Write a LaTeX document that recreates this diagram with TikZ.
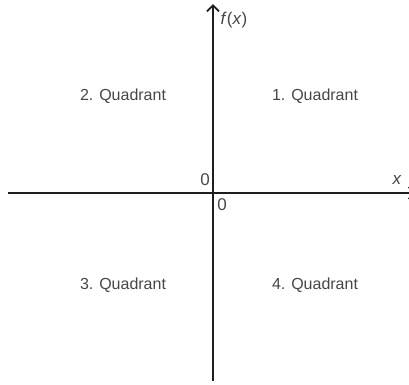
\documentclass[tikz,border=0pt]{standalone}
\usepackage{fontspec}
\setmainfont{Liberation Sans}
\usepackage{tikz}
\usetikzlibrary{arrows.meta,positioning}
\definecolor{axc}{RGB}{30,30,30}
\definecolor{txc}{RGB}{70,70,70}

\begin{document}
\begin{tikzpicture}[x=1pt,y=-1pt,font=\fontsize{16}{18}\selectfont,
  axis/.style={draw=axc,line width=2.6pt,-{Straight Barb[length=6pt,width=12pt,line width=1.8pt]}},
  quad/.style={text=txc,inner sep=0pt},
  lab/.style={text=txc,inner sep=0pt,font=\fontsize{17}{19}\selectfont}]
\useasboundingbox (0,0) rectangle (409,384);

% ---------- axes ----------
\coordinate (xl) at (8,193);
\coordinate (xr) at (416,193);
\coordinate (yb) at (213,381);
\coordinate (yt) at (213,4);
\draw[axis] (xl) -- (xr);
\draw[axis] (yb) -- (yt);

% ---------- axis labels ----------
\node[lab] (fx) at (234,20) {\textit{f}(\textit{x})};
\node[lab] (xx) at (397,180) {\textit{x}};
\node[lab] (zl) at (205,180) {0};
\node[lab] (zr) at (222,205) {0};

% ---------- quadrants ----------
\node[quad] (q1) at (315,96) {1. Quadrant};
\node[quad] (q2) at (123,96) {2. Quadrant};
\node[quad] (q3) at (123,285) {3. Quadrant};
\node[quad] (q4) at (315,285) {4. Quadrant};
\end{tikzpicture}
\end{document}
